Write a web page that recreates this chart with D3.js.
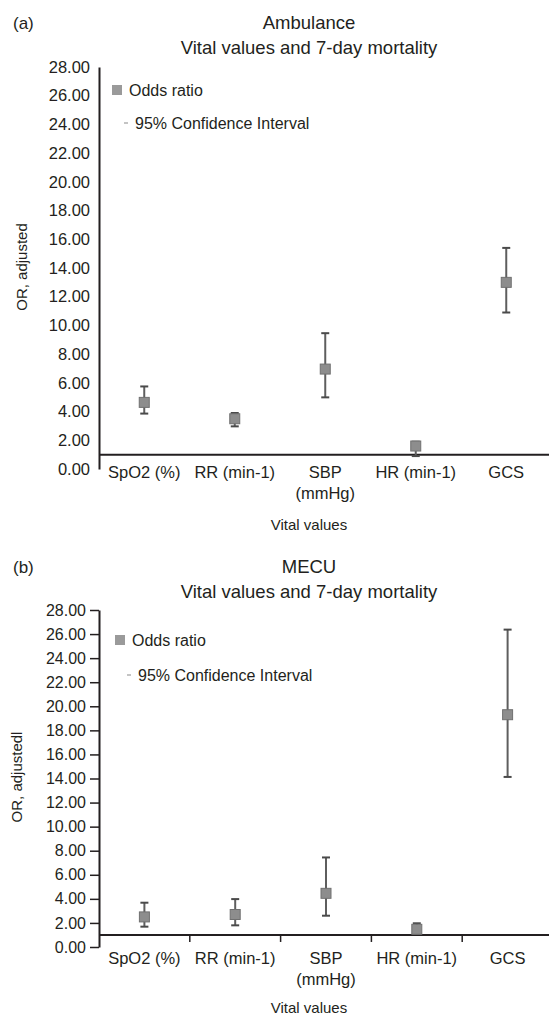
<!DOCTYPE html>
<html>
<head>
<meta charset="utf-8">
<script src="https://cdn.jsdelivr.net/npm/d3@7"></script>
<style>
  body { margin: 0; background: #fff; }
  svg { display: block; font-family: "Liberation Sans", Arial, Helvetica, sans-serif; }
</style>
</head>
<body>
<script>
const width = 549;
const height = 1018;

// x categories and y tick labels (same for both panels)
const categories = ['SpO2 (%)', 'RR (min-1)', 'SBP (mmHg)', 'HR (min-1)', 'GCS'];
const yTickValues = [0, 2, 4, 6, 8, 10, 12, 14, 16, 18, 20, 22, 24, 26, 28];

// (a) Ambulance: adjusted odds ratio with 95% CI
const ambulanceOR = [4.64, 3.5, 6.96, 1.6, 13.0];
const ambulanceLower = [3.86, 2.97, 4.99, 0.9, 10.9];
const ambulanceUpper = [5.75, 3.9, 9.46, 1.9, 15.4];

// (b) MECU: adjusted odds ratio with 95% CI
const mecuOR = [2.5, 2.7, 4.46, 1.47, 19.3];
const mecuLower = [1.69, 1.8, 2.6, 1.1, 14.13];
const mecuUpper = [3.68, 3.98, 7.44, 1.97, 26.37];

const textColor = '#231f20';
const axisLeftX = 99;

const svg = d3.select('body').append('svg')
    .attr('width', width)
    .attr('height', height);

function drawPanel(p) {
    const g = svg.append('g');

    const y = d3.scaleLinear().domain([0, 28]).range([p.yBottom, p.yTop]);
    const x = d3.scaleBand().domain(categories).range([axisLeftX, p.xEnd]);

    const rows = categories.map((c, i) => ({ cat: c, or: p.or[i], lo: p.lower[i], hi: p.upper[i] }));

    // panel letter and titles
    g.append('text')
        .attr('x', 13).attr('y', p.titleY)
        .attr('font-size', '17px').attr('fill', textColor)
        .text(p.letter);

    g.append('text')
        .attr('x', 309).attr('y', p.titleY)
        .attr('text-anchor', 'middle')
        .attr('font-size', '18.5px').attr('fill', textColor)
        .text(p.title);

    g.append('text')
        .attr('x', 309).attr('y', p.titleY + 25)
        .attr('text-anchor', 'middle')
        .attr('font-size', '18.5px').attr('fill', textColor)
        .text('Vital values and 7-day mortality');

    // y axis
    const yAxis = g.append('g')
        .attr('transform', `translate(${axisLeftX},0)`)
        .call(d3.axisLeft(y)
            .tickValues(yTickValues)
            .tickFormat(d3.format('.2f'))
            .tickSize(p.tickSize)
            .tickSizeOuter(0)
            .tickPadding(p.tickPad));
    yAxis.select('.domain').attr('stroke', textColor).attr('stroke-width', 2);
    yAxis.selectAll('.tick line').attr('stroke', textColor).attr('stroke-width', 1.5);
    yAxis.selectAll('.tick text')
        .attr('fill', textColor)
        .style('font-size', p.tickFont)
        .style('font-family', '"Liberation Sans", Arial, sans-serif');

    // y axis title
    g.append('text')
        .attr('transform', `translate(${p.yTitleX},${p.yTitleY}) rotate(-90)`)
        .attr('text-anchor', 'middle')
        .attr('font-size', '15px').attr('fill', textColor)
        .text(p.yTitle);

    // x axis crosses at OR = 1
    g.append('line')
        .attr('x1', axisLeftX).attr('x2', width)
        .attr('y1', y(1)).attr('y2', y(1))
        .attr('stroke', textColor).attr('stroke-width', 2);

    if (p.xTicks) {
        const bounds = categories.slice(1).map(c => x(c));
        g.append('g').selectAll('line')
            .data(bounds)
            .enter().append('line')
            .attr('x1', d => d).attr('x2', d => d)
            .attr('y1', y(1)).attr('y2', y(1) + 7)
            .attr('stroke', textColor).attr('stroke-width', 1.5);
    }

    // category labels, wrapped when wider than the band
    const labels = g.append('g').selectAll('text')
        .data(categories)
        .enter().append('text')
        .attr('x', d => x(d) + x.bandwidth() / 2)
        .attr('y', p.labelY)
        .attr('text-anchor', 'middle')
        .attr('font-size', '16.5px').attr('fill', textColor)
        .text(d => d);
    labels.each(function(d) {
        const t = d3.select(this);
        if (this.getComputedTextLength() > x.bandwidth() - 4) {
            const words = d.split(' ');
            t.text(null);
            words.forEach((w, i) => {
                t.append('tspan')
                    .attr('x', x(d) + x.bandwidth() / 2)
                    .attr('dy', i === 0 ? 0 : 21)
                    .text(w);
            });
        }
    });

    // x axis title
    g.append('text')
        .attr('x', 309).attr('y', p.xTitleY)
        .attr('text-anchor', 'middle')
        .attr('font-size', '15px').attr('fill', textColor)
        .text('Vital values');

    // error bars
    const bars = g.append('g').selectAll('g')
        .data(rows)
        .enter().append('g')
        .attr('transform', d => `translate(${x(d.cat) + x.bandwidth() / 2},0)`);

    bars.append('line')
        .attr('y1', d => y(d.lo)).attr('y2', d => y(d.hi))
        .attr('stroke', '#5e5e5e').attr('stroke-width', 2);
    bars.append('line')
        .attr('x1', -4).attr('x2', 4)
        .attr('y1', d => y(d.hi)).attr('y2', d => y(d.hi))
        .attr('stroke', '#4a4a4a').attr('stroke-width', 2);
    bars.append('line')
        .attr('x1', -4).attr('x2', 4)
        .attr('y1', d => y(d.lo)).attr('y2', d => y(d.lo))
        .attr('stroke', '#4a4a4a').attr('stroke-width', 2);

    // odds ratio markers
    bars.append('rect')
        .attr('x', -5).attr('y', d => y(d.or) - 5)
        .attr('width', 10).attr('height', 10)
        .attr('fill', '#8d8d8d')
        .attr('stroke', '#707070').attr('stroke-width', 1);

    // legend
    const lg = g.append('g').attr('transform', `translate(${p.legendX},${p.legendY})`);
    lg.append('rect')
        .attr('x', 0).attr('y', -5)
        .attr('width', 10).attr('height', 10)
        .attr('fill', '#9a9a9a');
    lg.append('text')
        .attr('x', 17).attr('dy', '0.35em')
        .attr('font-size', '16px').attr('fill', textColor)
        .text('Odds ratio');
    lg.append('line')
        .attr('x1', 12).attr('x2', 16)
        .attr('y1', p.legendGap).attr('y2', p.legendGap)
        .attr('stroke', '#b0b0b0').attr('stroke-width', 1.5);
    lg.append('text')
        .attr('x', 23).attr('y', p.legendGap).attr('dy', '0.35em')
        .attr('font-size', '16px').attr('fill', textColor)
        .text('95% Confidence Interval');
}

drawPanel({
    letter: '(a)', title: 'Ambulance', titleY: 29,
    yTop: 67, yBottom: 469, xEnd: 551.5,
    tickSize: 0, tickPad: 9, tickFont: '16.5px', xTicks: false,
    yTitle: 'OR, adjusted', yTitleX: 27, yTitleY: 267,
    labelY: 478, xTitleY: 530,
    legendX: 112, legendY: 90, legendGap: 33,
    or: ambulanceOR, lower: ambulanceLower, upper: ambulanceUpper
});

drawPanel({
    letter: '(b)', title: 'MECU', titleY: 573,
    yTop: 610, yBottom: 947, xEnd: 553,
    tickSize: 9, tickPad: 4, tickFont: '16px', xTicks: true,
    yTitle: 'OR, adjustedl', yTitleX: 22, yTitleY: 777,
    labelY: 964, xTitleY: 1013,
    legendX: 115, legendY: 640, legendGap: 35,
    or: mecuOR, lower: mecuLower, upper: mecuUpper
});
</script>
</body>
</html>
